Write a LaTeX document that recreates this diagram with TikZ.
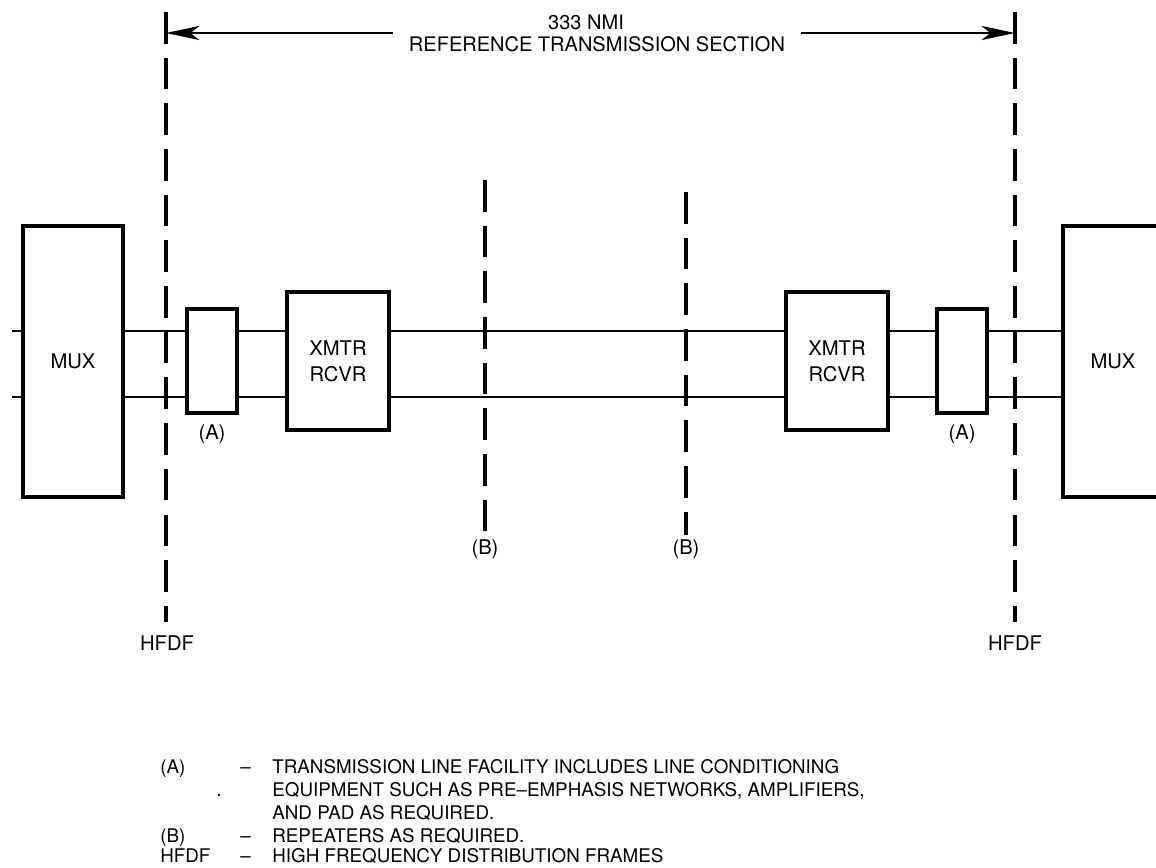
\documentclass[tikz,border=0pt]{standalone}
\usepackage{fontspec}
\setmainfont{TeX Gyre Heros}
\usetikzlibrary{arrows.meta}
\begin{document}
\begin{tikzpicture}[x=0.02cm,y=-0.02cm,
  box/.style={draw,line width=1.8pt,inner sep=0pt,align=center},
  wire/.style={line width=1.5pt},
  hf/.style={line width=1.8pt,dash pattern=on 18pt off 8pt},
  lbl/.style={inner sep=0pt,font=\fontsize{11.5}{13}\selectfont},
  ttl/.style={inner sep=0pt,font=\fontsize{11.4}{14}\selectfont},
  leg/.style={inner sep=0pt,anchor=base west,font=\fontsize{10.7}{13}\selectfont},
  dimarrow/.style={line width=1.6pt,-{Stealth[length=19pt,width=8pt,inset=5pt]}}]
\useasboundingbox (0,0) rectangle (1156,867);
\begin{scope}
\clip (0,0) rectangle (1156,867);
% boxes
\node[box,minimum width={100*0.02cm},minimum height={271*0.02cm},lbl] (muxl) at (73,361.5) {MUX};
\node[box,minimum width={50*0.02cm},minimum height={104*0.02cm}] (al) at (212,361) {};
\node[box,minimum width={102*0.02cm},minimum height={138*0.02cm},lbl,align=center] (xl) at (338,361) {XMTR\\[2pt]RCVR};
\node[box,minimum width={102*0.02cm},minimum height={138*0.02cm},lbl,align=center] (xr) at (837,361) {XMTR\\[2pt]RCVR};
\node[box,minimum width={50*0.02cm},minimum height={104*0.02cm}] (ar) at (962,361) {};
\node[box,minimum width={100*0.02cm},minimum height={271*0.02cm},lbl] (muxr) at (1113,361.5) {MUX};
% stubs
\coordinate (s1) at (12,331);
\coordinate (s2) at (12,397);
\draw[wire] (s1) -- (muxl.west |- s1);
\draw[wire] (s2) -- (muxl.west |- s2);
% wires
\foreach \yy in {331,397}{
  \draw[wire] (muxl.east |- 0,\yy) -- (al.west |- 0,\yy);
  \draw[wire] (al.east |- 0,\yy) -- (xl.west |- 0,\yy);
  \draw[wire] (xl.east |- 0,\yy) -- (xr.west |- 0,\yy);
  \draw[wire] (xr.east |- 0,\yy) -- (ar.west |- 0,\yy);
  \draw[wire] (ar.east |- 0,\yy) -- (muxr.west |- 0,\yy);
}
\end{scope}
% HFDF dashed lines
\coordinate (hl1) at (166,12); \coordinate (hl2) at (166,622);
\coordinate (hr1) at (1015,12); \coordinate (hr2) at (1015,622);
\draw[hf] (hl1) -- (hl2);
\draw[hf] (hr1) -- (hr2);
% repeater dashed lines
\coordinate (b1t) at (485,180); \coordinate (b1b) at (485,535);
\coordinate (b2t) at (686,192); \coordinate (b2b) at (686,535);
\draw[hf] (b1t) -- (b1b);
\draw[hf] (b2t) -- (b2b);
% dimension arrow
\node[ttl] (nmi) at (586,22) {333 NMI};
\node[ttl] (refsec) at (597,44) {REFERENCE TRANSMISSION SECTION};
\coordinate (al1) at (393,33); \coordinate (ar1) at (801,33);
\draw[dimarrow] (al1) -- (hl1 |- al1);
\draw[dimarrow] (ar1) -- (hr1 |- ar1);
% labels
\node[lbl] (la) at (212,434) {(A)};
\node[lbl] (ra) at (962,434) {(A)};
\node[lbl] (lb1) at (485,549) {(B)};
\node[lbl] (lb2) at (686,549) {(B)};
\node[lbl] (hfl) at (167,643) {HFDF};
\node[lbl] (hfr) at (1015,643) {HFDF};
% legend
\node[leg] (k1) at (160,773) {(A)};
\node[leg] (d1) at (240,773) {--};
\node[leg] (t1) at (272,773) {TRANSMISSION LINE FACILITY INCLUDES LINE CONDITIONING};
\node[leg] (dot) at (216,796) {.};
\node[leg] (t2) at (272,796) {EQUIPMENT SUCH AS PRE--EMPHASIS NETWORKS, AMPLIFIERS,};
\node[leg] (t3) at (272,819) {AND PAD AS REQUIRED.};
\node[leg] (k2) at (160,842) {(B)};
\node[leg] (d2) at (240,842) {--};
\node[leg] (t4) at (272,842) {REPEATERS AS REQUIRED.};
\node[leg] (k3) at (160,862) {HFDF};
\node[leg] (d3) at (240,862) {--};
\node[leg] (t5) at (272,862) {HIGH FREQUENCY DISTRIBUTION FRAMES};
\end{tikzpicture}
\end{document}
